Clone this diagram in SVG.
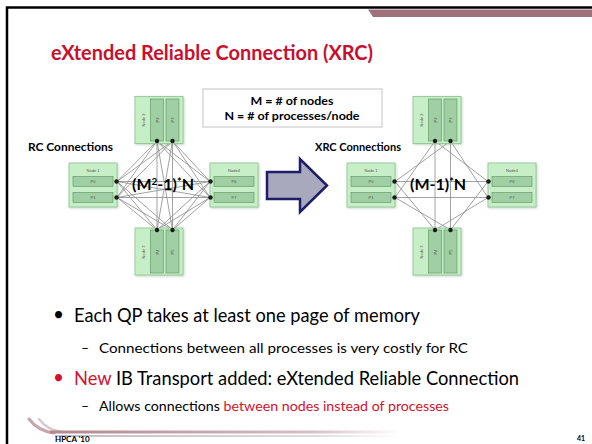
<svg xmlns="http://www.w3.org/2000/svg" width="592" height="444" viewBox="0 0 592 444">
  <defs>
    <style>
      .frame { fill: none; stroke: #000; stroke-width: 2.5; }
      .title { font-family: Lato, "Liberation Sans", sans-serif; font-weight: bold; font-size: 21px; fill: #c8102e; }
      .bold { font-family: Lato, "Liberation Sans", sans-serif; font-weight: bold; fill: #000; }
      .body { font-family: Lato, "Liberation Sans", sans-serif; fill: #000; }
      .red { fill: #d2122e; }
      .box { fill: #c6efc8; stroke: #8fc392; stroke-width: 0.8; filter: url(#soft); }
      .bar { fill: #9fcfa2; stroke: #5e8f61; stroke-width: 0.6; }
      .lbl { font-family: "Liberation Sans", sans-serif; font-size: 4px; fill: #555; text-anchor: middle; }
      .dot { fill: #1a1a1a; }
      .wire { stroke: #8a8a8a; stroke-width: 0.8; fill: none; }
      .legend { fill: #fff; stroke: #c4c4c4; stroke-width: 1; }
      .swoosh { fill: none; stroke-linecap: round; }
    </style>
    <filter id="soft" x="-10%" y="-10%" width="125%" height="125%">
      <feDropShadow dx="0.8" dy="0.8" stdDeviation="0.8" flood-color="#6d8f6f" flood-opacity="0.45"/>
    </filter>
    <linearGradient id="footband" x1="0" y1="0" x2="1" y2="0">
      <stop offset="0" stop-color="#b3858f"/>
      <stop offset="0.75" stop-color="#d6c0c5"/>
      <stop offset="1" stop-color="#ffffff"/>
    </linearGradient>
    <linearGradient id="footband2" x1="0" y1="0" x2="1" y2="0">
      <stop offset="0" stop-color="#c2bcc5"/>
      <stop offset="0.75" stop-color="#dfdbe0"/>
      <stop offset="1" stop-color="#ffffff"/>
    </linearGradient>
  </defs>

  <!-- slide background and frame -->
  <rect x="0" y="0" width="592" height="444" fill="#fff"/>
  <path class="frame" d="M7 445 V7.5 H593"/>
  <!-- header accent band -->
  <polygon points="368,9.5 592,9.5 592,17 373,17" fill="#9f717c"/>

  <!-- title -->
  <text class="title" x="51" y="60" textLength="322" lengthAdjust="spacingAndGlyphs">eXtended Reliable Connection (XRC)</text>

  <!-- legend -->
  <g id="legend">
    <rect class="legend" x="203" y="89" width="179" height="38"/>
    <text class="bold" x="292" y="105" font-size="11.5" text-anchor="middle" textLength="83" lengthAdjust="spacingAndGlyphs">M = # of nodes</text>
    <text class="bold" x="292" y="120" font-size="11.5" text-anchor="middle" textLength="135" lengthAdjust="spacingAndGlyphs">N = # of processes/node</text>
  </g>

  <text class="bold" x="28" y="151" font-size="11.5" textLength="85" lengthAdjust="spacingAndGlyphs">RC Connections</text>
  <text class="bold" x="315" y="151" font-size="11.5" textLength="86" lengthAdjust="spacingAndGlyphs">XRC Connections</text>

  <!-- RC: full mesh between all processes -->
  <g id="rc-connectors" class="wire">
    <!-- node 2 to node 1 -->
    <line x1="157" y1="141" x2="117" y2="181.5"/><line x1="157" y1="141" x2="117" y2="197.5"/>
    <line x1="172.5" y1="141" x2="117" y2="181.5"/><line x1="172.5" y1="141" x2="117" y2="197.5"/>
    <!-- node 2 to node 4 -->
    <line x1="157" y1="141" x2="210" y2="181.5"/><line x1="157" y1="141" x2="210" y2="197.5"/>
    <line x1="172.5" y1="141" x2="210" y2="181.5"/><line x1="172.5" y1="141" x2="210" y2="197.5"/>
    <!-- node 2 to node 3 -->
    <line x1="157" y1="141" x2="157" y2="230"/><line x1="157" y1="141" x2="172.5" y2="230"/>
    <line x1="172.5" y1="141" x2="157" y2="230"/><line x1="172.5" y1="141" x2="172.5" y2="230"/>
    <!-- node 1 to node 4 -->
    <line x1="117" y1="181.5" x2="210" y2="181.5"/><line x1="117" y1="181.5" x2="210" y2="197.5"/>
    <line x1="117" y1="197.5" x2="210" y2="181.5"/><line x1="117" y1="197.5" x2="210" y2="197.5"/>
    <!-- node 1 to node 3 -->
    <line x1="117" y1="181.5" x2="157" y2="230"/><line x1="117" y1="181.5" x2="172.5" y2="230"/>
    <line x1="117" y1="197.5" x2="157" y2="230"/><line x1="117" y1="197.5" x2="172.5" y2="230"/>
    <!-- node 4 to node 3 -->
    <line x1="210" y1="181.5" x2="157" y2="230"/><line x1="210" y1="181.5" x2="172.5" y2="230"/>
    <line x1="210" y1="197.5" x2="157" y2="230"/><line x1="210" y1="197.5" x2="172.5" y2="230"/>
  </g>

  <!-- XRC: one connection per process to each remote node -->
  <g id="xrc-connectors" class="wire">
    <line x1="395" y1="181.5" x2="488" y2="181.5"/>
    <line x1="395" y1="197.5" x2="488" y2="197.5"/>
    <line x1="435" y1="141" x2="435" y2="230"/>
    <line x1="450.5" y1="141" x2="450.5" y2="230"/>
    <line x1="395" y1="181.5" x2="450.5" y2="141"/>
    <line x1="395" y1="197.5" x2="435" y2="141"/>
    <line x1="488" y1="181.5" x2="435" y2="141"/>
    <line x1="488" y1="197.5" x2="450.5" y2="141"/>
    <line x1="395" y1="181.5" x2="435" y2="230"/>
    <line x1="395" y1="197.5" x2="450.5" y2="230"/>
    <line x1="488" y1="181.5" x2="450.5" y2="230"/>
    <line x1="488" y1="197.5" x2="435" y2="230"/>
  </g>

  <!-- RC nodes -->
  <g id="rc-node2">
    <rect class="box" x="135" y="96.5" width="48" height="47"/>
    <rect class="bar" x="150.5" y="99" width="13" height="42"/>
    <rect class="bar" x="166" y="99" width="13" height="42"/>
    <text class="lbl" transform="translate(144.5,120) rotate(-90)">Node 2</text>
    <text class="lbl" transform="translate(158.5,120) rotate(-90)">P2</text>
    <text class="lbl" transform="translate(174,120) rotate(-90)">P3</text>
    <circle class="dot" cx="157" cy="141" r="2.2"/>
    <circle class="dot" cx="172.5" cy="141" r="2.2"/>
  </g>
  <g id="rc-node1">
    <rect class="box" x="69" y="163" width="48" height="44"/>
    <text class="lbl" x="93" y="172">Node 1</text>
    <rect class="bar" x="73" y="176.5" width="40" height="10"/>
    <rect class="bar" x="73" y="192.5" width="40" height="10"/>
    <text class="lbl" x="93" y="183">P0</text>
    <text class="lbl" x="93" y="199">P1</text>
    <circle class="dot" cx="116.5" cy="181.5" r="2.2"/>
    <circle class="dot" cx="116.5" cy="197.5" r="2.2"/>
  </g>
  <g id="rc-node4">
    <rect class="box" x="210" y="163" width="48" height="44"/>
    <text class="lbl" x="234" y="172">Node4</text>
    <rect class="bar" x="214" y="176.5" width="40" height="10"/>
    <rect class="bar" x="214" y="192.5" width="40" height="10"/>
    <text class="lbl" x="234" y="183">P6</text>
    <text class="lbl" x="234" y="199">P7</text>
    <circle class="dot" cx="210.5" cy="181.5" r="2.2"/>
    <circle class="dot" cx="210.5" cy="197.5" r="2.2"/>
  </g>
  <g id="rc-node3">
    <rect class="box" x="135" y="228" width="48" height="47"/>
    <rect class="bar" x="150.5" y="230" width="13" height="43"/>
    <rect class="bar" x="166" y="230" width="13" height="43"/>
    <text class="lbl" transform="translate(144.5,252) rotate(-90)">Node 3</text>
    <text class="lbl" transform="translate(158.5,252) rotate(-90)">P4</text>
    <text class="lbl" transform="translate(174,252) rotate(-90)">P5</text>
    <circle class="dot" cx="157" cy="230" r="2.2"/>
    <circle class="dot" cx="172.5" cy="230" r="2.2"/>
  </g>

  <!-- XRC nodes -->
  <g id="xrc-node2">
    <rect class="box" x="413" y="96.5" width="48" height="47"/>
    <rect class="bar" x="428.5" y="99" width="13" height="42"/>
    <rect class="bar" x="444" y="99" width="13" height="42"/>
    <text class="lbl" transform="translate(422.5,120) rotate(-90)">Node 2</text>
    <text class="lbl" transform="translate(436.5,120) rotate(-90)">P2</text>
    <text class="lbl" transform="translate(452,120) rotate(-90)">P3</text>
    <circle class="dot" cx="435" cy="141" r="2.2"/>
    <circle class="dot" cx="450.5" cy="141" r="2.2"/>
  </g>
  <g id="xrc-node1">
    <rect class="box" x="347" y="163" width="48" height="44"/>
    <text class="lbl" x="371" y="172">Node 1</text>
    <rect class="bar" x="351" y="176.5" width="40" height="10"/>
    <rect class="bar" x="351" y="192.5" width="40" height="10"/>
    <text class="lbl" x="371" y="183">P0</text>
    <text class="lbl" x="371" y="199">P1</text>
    <circle class="dot" cx="394.5" cy="181.5" r="2.2"/>
    <circle class="dot" cx="394.5" cy="197.5" r="2.2"/>
  </g>
  <g id="xrc-node4">
    <rect class="box" x="488" y="163" width="48" height="44"/>
    <text class="lbl" x="512" y="172">Node4</text>
    <rect class="bar" x="492" y="176.5" width="40" height="10"/>
    <rect class="bar" x="492" y="192.5" width="40" height="10"/>
    <text class="lbl" x="512" y="183">P6</text>
    <text class="lbl" x="512" y="199">P7</text>
    <circle class="dot" cx="488.5" cy="181.5" r="2.2"/>
    <circle class="dot" cx="488.5" cy="197.5" r="2.2"/>
  </g>
  <g id="xrc-node3">
    <rect class="box" x="413" y="228" width="48" height="47"/>
    <rect class="bar" x="428.5" y="230" width="13" height="43"/>
    <rect class="bar" x="444" y="230" width="13" height="43"/>
    <text class="lbl" transform="translate(422.5,252) rotate(-90)">Node 3</text>
    <text class="lbl" transform="translate(436.5,252) rotate(-90)">P4</text>
    <text class="lbl" transform="translate(452,252) rotate(-90)">P5</text>
    <circle class="dot" cx="435" cy="230" r="2.2"/>
    <circle class="dot" cx="450.5" cy="230" r="2.2"/>
  </g>

  <!-- connection counts -->
  <text class="bold" x="132" y="190" font-size="16">(M<tspan font-size="10" dy="-5">2</tspan><tspan dy="5">-1)</tspan><tspan font-size="11" dy="-4">*</tspan><tspan dy="4">N</tspan></text>
  <text class="bold" x="410" y="190" font-size="16">(M-1)<tspan font-size="11" dy="-4">*</tspan><tspan dy="4">N</tspan></text>

  <!-- transition arrow -->
  <polygon id="arrow" points="267,172 300,172 300,159 327,185.5 300,212 300,199 267,199" fill="#a9a9bd" stroke="#1d1d6b" stroke-width="2.5" stroke-linejoin="miter"/>

  <!-- bullets -->
  <text class="body" x="53" y="321" font-size="19">•</text>
  <text class="body" x="74" y="322" font-size="19" textLength="346" lengthAdjust="spacingAndGlyphs">Each QP takes at least one page of memory</text>
  <text class="body" x="81" y="353" font-size="14">–</text>
  <text class="body" x="99" y="353" font-size="14" textLength="369" lengthAdjust="spacingAndGlyphs">Connections between all processes is very costly for RC</text>
  <text class="body red" x="53" y="384" font-size="19">•</text>
  <text class="body" x="74" y="385" font-size="19" textLength="445" lengthAdjust="spacingAndGlyphs"><tspan class="red">New</tspan> IB Transport added: eXtended Reliable Connection</text>
  <text class="body" x="81" y="411" font-size="14">–</text>
  <text class="body" x="99" y="411" font-size="14" textLength="350" lengthAdjust="spacingAndGlyphs">Allows connections <tspan class="red">between nodes instead of processes</tspan></text>

  <!-- footer decoration -->
  <path class="swoosh" d="M29 419 Q38 431 54 433" stroke="#c7a5ae" stroke-width="3"/>
  <path class="swoosh" d="M39 419 Q47 430 62 432" stroke="#d6cad0" stroke-width="2.5"/>
  <rect x="50" y="430.5" width="350" height="3" fill="url(#footband)"/>
  <rect x="55" y="435" width="345" height="2" fill="url(#footband2)"/>
  <text class="bold" x="55" y="442" font-size="8" fill="#3d2a55">HPCA '10</text>
  <text class="bold" x="585" y="441" font-size="7" text-anchor="end">41</text>
</svg>
